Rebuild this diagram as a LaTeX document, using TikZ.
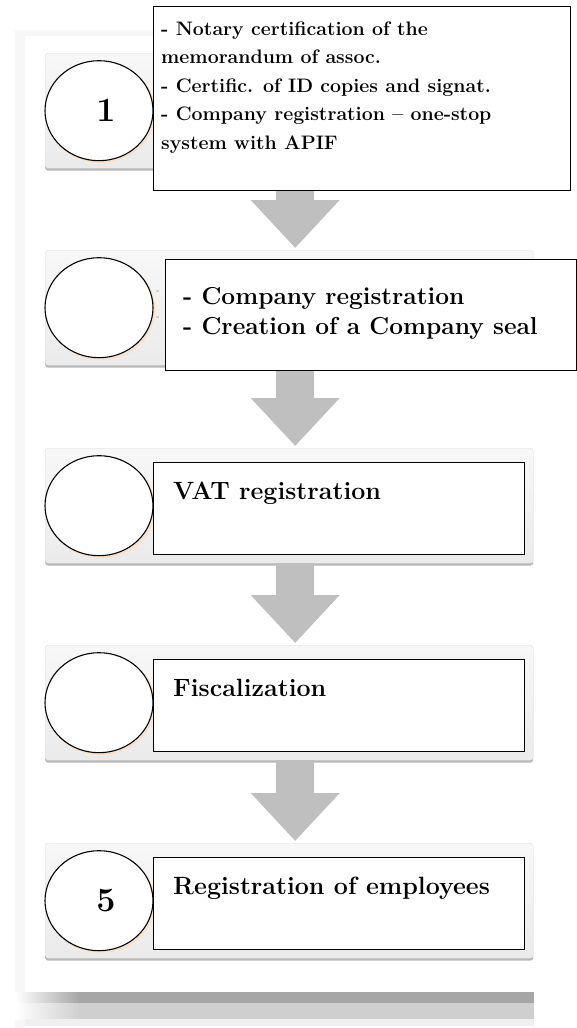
\documentclass[tikz,border=0pt]{standalone}
\usetikzlibrary{positioning,arrows.meta,shadows,shapes.geometric}

\tikzset{
  stepbg/.style={draw=gray!25, rounded corners=3pt, top color=gray!6, bottom color=gray!16,
    drop shadow={shadow xshift=0pt, shadow yshift=-2.5pt, fill=gray!80, opacity=.7},
    minimum width=488pt, minimum height=115pt, inner sep=0pt, anchor=north west},
  stepcircle/.style={ellipse, draw, line width=1.1pt, fill=white, minimum width=108pt,
    minimum height=100pt, inner sep=0pt},
  textbox/.style={draw, line width=1.4pt, fill=white, inner sep=0pt, anchor=north west},
  boxtext/.style={anchor=base west, align=left, inner sep=0pt},
  flowarrow/.style={draw=black!25, line width=38pt, -{Triangle[length=48pt,width=86pt]}}
}

\begin{document}
\begin{tikzpicture}[x=1pt, y=-1pt]
  \useasboundingbox (0,0) rectangle (577,1028);

  % frame around the steps
  \fill[gray!6] (15,30) rectangle (25,1028);
  \fill[gray!6] (25,30) rectangle (534,36);
  \shade[left color=white, right color=black!35] (15,992) rectangle (80,1003);
  \fill[black!35] (80,992) rectangle (534,1003);
  \shade[left color=white, right color=black!19] (15,1003) rectangle (80,1019);
  \fill[black!19] (80,1003) rectangle (534,1019);
  \fill[black!6] (25,1019) rectangle (534,1026);

  % grey step panels
  \node[stepbg] (s1) at (45,53) {};
  \node[stepbg] (s2) at (45,250) {};
  \node[stepbg] (s3) at (45,448) {};
  \node[stepbg] (s4) at (45,645) {};
  \node[stepbg] (s5) at (45,843) {};

  % arrows between the steps
  \draw[flowarrow] ([xshift=6pt]s1.south) -- ([xshift=6pt,yshift=2pt]s2.north);
  \draw[flowarrow] ([xshift=6pt]s2.south) -- ([xshift=6pt,yshift=2pt]s3.north);
  \draw[flowarrow] ([xshift=6pt]s3.south) -- ([xshift=6pt,yshift=2pt]s4.north);
  \draw[flowarrow] ([xshift=6pt]s4.south) -- ([xshift=6pt,yshift=2pt]s5.north);

  % bits of text hidden behind box 2
  \node[font=\bfseries\fontsize{9}{9}\selectfont, text=gray!70, inner sep=0pt] (d1) at (158,292) {-};
  \node[font=\bfseries\fontsize{9}{9}\selectfont, text=gray!70, inner sep=0pt] (d2) at (158,318) {-};

  % numbered circles
  \foreach \s in {s1,s2,s3,s4,s5} {
    \draw[orange!25, line width=1.5pt] ([xshift=1.5pt,yshift=-1.5pt]\s.west) ++(54,0) ellipse (54pt and 50pt);
  }
  \node[stepcircle] (c1) at ([xshift=54pt]s1.west) {};
  \node[stepcircle] (c2) at ([xshift=54pt]s2.west) {};
  \node[stepcircle] (c3) at ([xshift=54pt]s3.west) {};
  \node[stepcircle] (c4) at ([xshift=54pt]s4.west) {};
  \node[stepcircle] (c5) at ([xshift=54pt]s5.west) {};
  \node[font=\bfseries\fontsize{34}{34}\selectfont] (n1) at ([xshift=7pt]c1.center) {1};
  \node[font=\bfseries\fontsize{34}{34}\selectfont] (n5) at ([xshift=7pt]c5.center) {5};

  % text boxes (multi-line texts sit on the baseline of their last line)
  \node[textbox, minimum width=417pt, minimum height=184pt] (t1) at (153,6) {};
  \node[boxtext, font=\bfseries\fontsize{19.5}{28.5}\selectfont] (l1) at ([xshift=8pt,yshift=-143pt]t1.north west)
    {- Notary certification of the\\memorandum of assoc.\\- Certific. of ID copies and signat.\\- Company registration -- one-stop\\system with APIF};

  \node[textbox, minimum width=411pt, minimum height=111pt] (t2) at (165,259) {};
  \node[boxtext, font=\bfseries\fontsize{24.5}{29.5}\selectfont] (l2) at ([xshift=18pt,yshift=-75pt]t2.north west)
    {- Company registration\\- Creation of a Company seal};

  \node[textbox, minimum width=371pt, minimum height=92pt] (t3) at (153,462) {};
  \node[boxtext, font=\bfseries\fontsize{25}{29}\selectfont] (l3) at ([xshift=20pt,yshift=-37pt]t3.north west) {VAT registration};

  \node[textbox, minimum width=371pt, minimum height=92pt] (t4) at (153,659) {};
  \node[boxtext, font=\bfseries\fontsize{25}{29}\selectfont] (l4) at ([xshift=20pt,yshift=-37pt]t4.north west) {Fiscalization};

  \node[textbox, minimum width=371pt, minimum height=92pt] (t5) at (153,857) {};
  \node[boxtext, font=\bfseries\fontsize{25}{29}\selectfont] (l5) at ([xshift=20pt,yshift=-37pt]t5.north west) {Registration of employees};
\end{tikzpicture}
\end{document}
